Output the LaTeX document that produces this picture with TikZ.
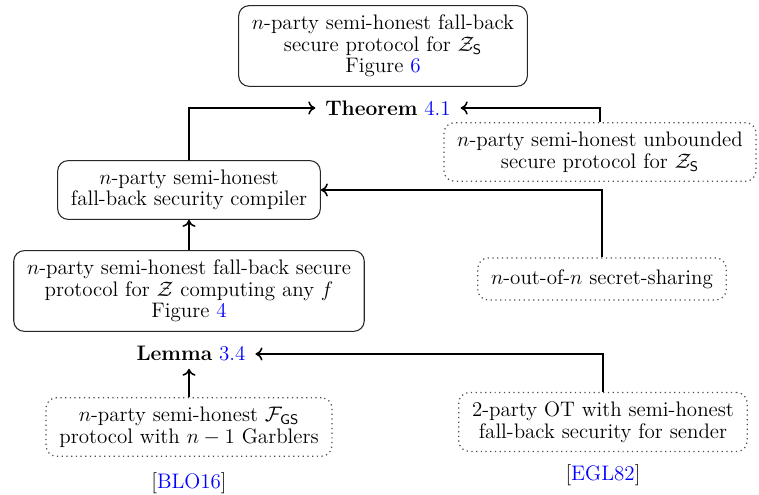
\documentclass[tikz,border=0pt]{standalone}
\usetikzlibrary{arrows.meta}
\begin{document}
\begin{tikzpicture}[x=0.5714pt,y=-0.5714pt,
  every node/.style={font=\fontsize{12}{12.4}\selectfont},
  solidbox/.style={draw=black!85,rounded corners=6pt,align=center,inner xsep=7.6pt,inner ysep=5.2pt,line width=0.6pt},
  dotbox/.style={draw=black!70,dotted,rounded corners=6pt,align=center,inner xsep=7.6pt,inner ysep=5.2pt,line width=0.7pt},
  conn/.style={->,line width=0.9pt,>={To[length=4pt,width=7.5pt]}},
  lbl/.style={inner xsep=5.5pt,inner ysep=4pt}]
\useasboundingbox (0,0) rectangle (759,495);
\node[solidbox] (top) at (383,46) {$n$-party semi-honest fall-back\\ secure protocol for $\mathcal{Z}_{\mathsf{S}}$\\ Figure \textcolor{blue}{6}};
\node[lbl] (thm) at (388,108) {\textbf{Theorem} \textcolor{blue}{4.1}};
\node[dotbox] (unb) at (600,152) {$n$-party semi-honest unbounded\\ secure protocol for $\mathcal{Z}_{\mathsf{S}}$};
\node[solidbox] (comp) at (189,190) {$n$-party semi-honest\\ fall-back security compiler};
\node[dotbox, minimum height=24pt] (ss) at (602,279) {$n$-out-of-$n$ secret-sharing};
\node[solidbox] (fb) at (189,291) {$n$-party semi-honest fall-back secure\\ protocol for $\mathcal{Z}$ computing any $f$\\ Figure \textcolor{blue}{4}};
\node[lbl] (lem) at (191,354) {\textbf{Lemma} \textcolor{blue}{3.4}};
\node[dotbox] (gs) at (189,427) {$n$-party semi-honest $\mathcal{F}_{\mathsf{GS}}$\\ protocol with $n-1$ Garblers};
\node[dotbox] (ot) at (603,422) {2-party OT with semi-honest\\ fall-back security for sender};
\node (blo) at (189,483) {[\textcolor{blue}{BLO16}]};
\node (egl) at (603,475) {[\textcolor{blue}{EGL82}]};
\draw[conn] (comp.north) |- (thm.west);
\draw[conn] (unb.north) |- (thm.east);
\draw[conn] (ss.north) |- (comp.east);
\draw[conn] (fb.north) -- (comp.south);
\draw[conn] (gs.north) -- (gs.north |- lem.south);
\draw[conn] (ot.north) |- (lem.east);
\end{tikzpicture}
\end{document}
